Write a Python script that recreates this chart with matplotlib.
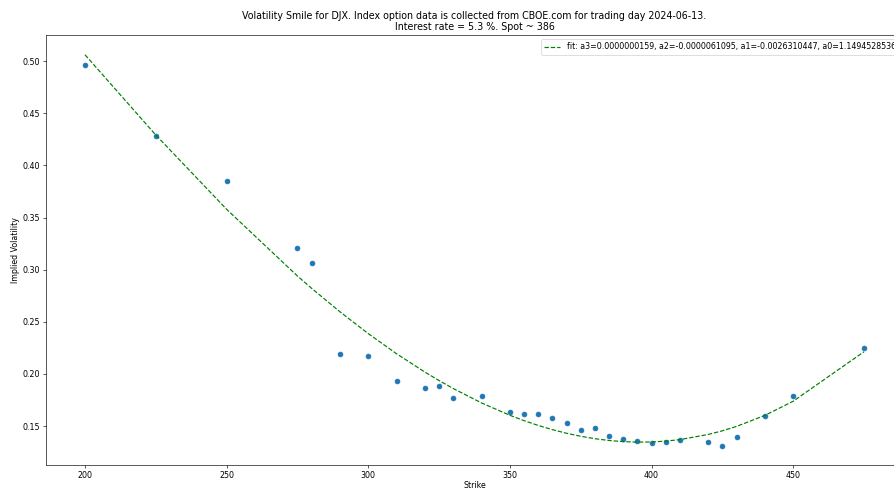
"""Volatility smile for DJX options with a cubic fit."""

import matplotlib

matplotlib.use("Agg")
import matplotlib.pyplot as plt
import numpy as np

# strikes and implied vols
strikes = [200, 225, 250, 275, 280, 290, 300, 310, 320, 325, 330, 340, 350, 355, 360,
           365, 370, 375, 380, 385, 390, 395, 400, 405, 410, 420, 425, 430, 440, 450, 475]
implied_vols = [0.4965, 0.4278, 0.3853, 0.3211, 0.3067, 0.2194, 0.2175, 0.1932, 0.1865,
                0.1888, 0.1773, 0.1788, 0.1638, 0.1615, 0.1612, 0.1577, 0.1529, 0.1465,
                0.1484, 0.1401, 0.1379, 0.1360, 0.1337, 0.1350, 0.1363, 0.1344, 0.1313,
                0.1391, 0.1600, 0.1788, 0.2248]

fit_label = "fit: a3=0.0000000159, a2=-0.0000061095, a1=-0.0026310447, a0=1.1494528536"
title = ("Volatility Smile for DJX. Index option data is collected from CBOE.com "
         "for trading day 2024-06-13.\nInterest rate = 5.3 %. Spot ~ 386")

DPI = 57.2

x = np.array(strikes, dtype=float)
y = np.array(implied_vols)
coeffs = np.polyfit(x, y, 3)

fig = plt.figure(figsize=(894 / DPI, 489 / DPI), dpi=DPI)
ax = fig.add_axes([0.0515, 0.049, 0.9585, 0.879])
ax.scatter(x, y)
ax.plot(x, np.polyval(coeffs, x), "g--", label=fit_label)
ax.set_title(title)
ax.set_xlabel("Strike", labelpad=1.5)
ax.set_ylabel("Implied Volatility")
ax.legend(loc="upper right")
fig.savefig("out.png", dpi=DPI)
plt.close(fig)
